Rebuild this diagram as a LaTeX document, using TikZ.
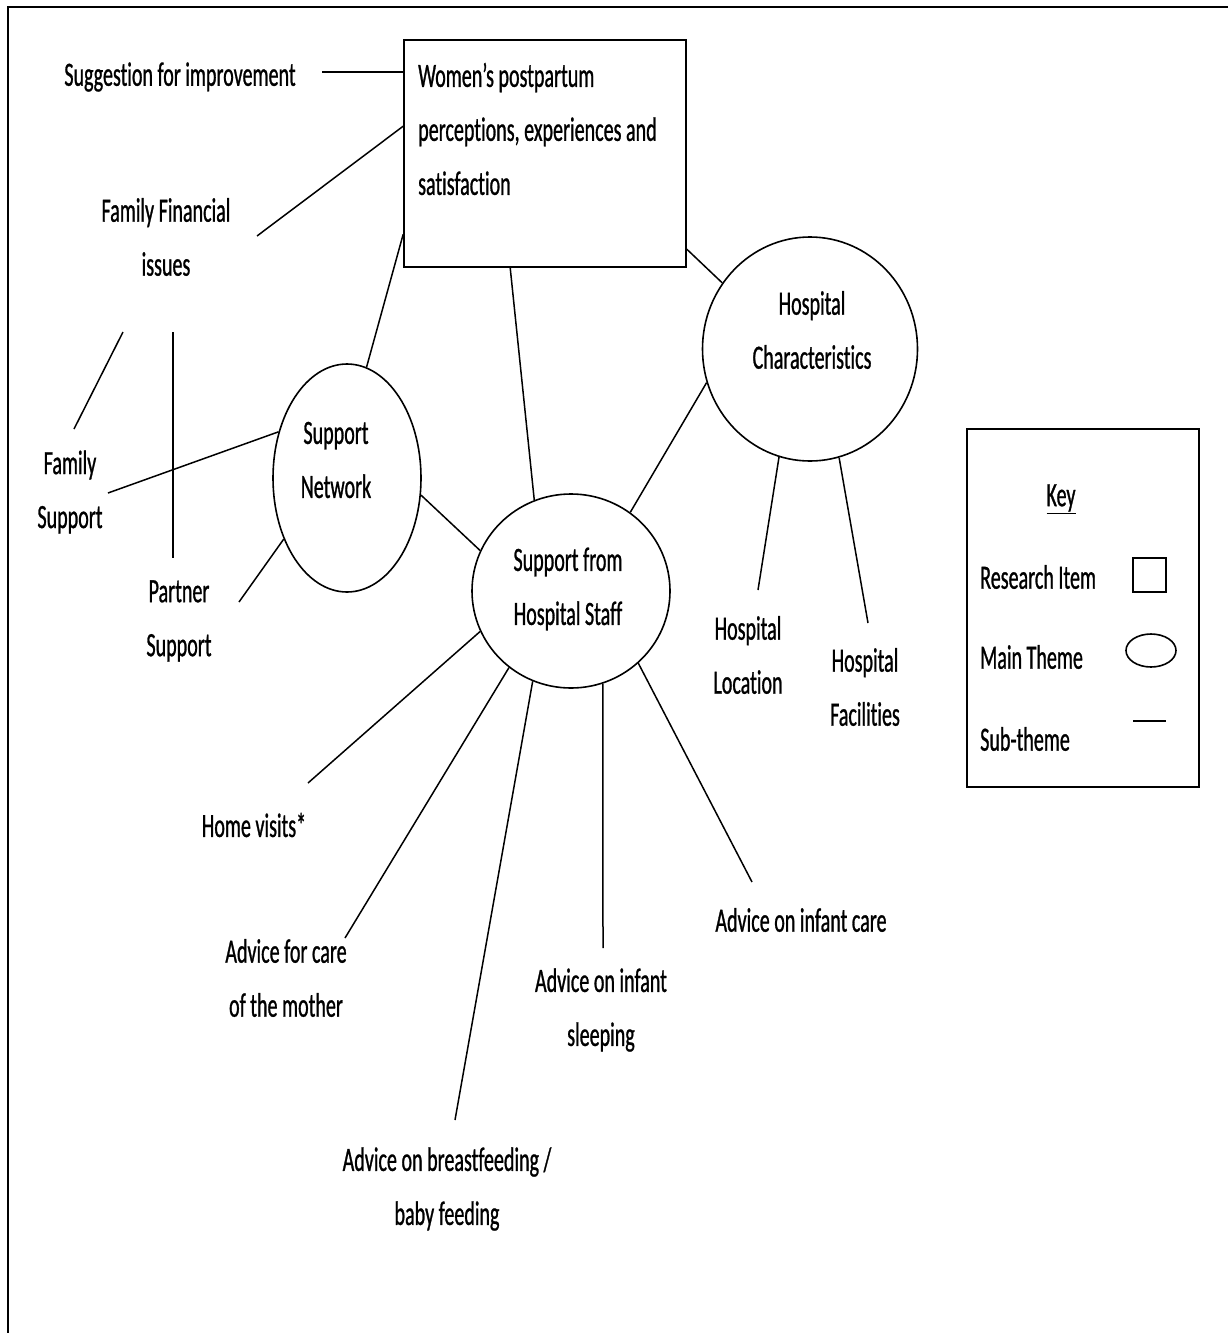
\documentclass[tikz,border=0pt]{standalone}
\usepackage{fontspec}
\setmainfont{Carlito}[FakeStretch=0.59, FakeBold=0.8, Ligatures=NoCommon]
\usetikzlibrary{shapes.geometric,calc}
\begin{document}
\begin{tikzpicture}[x=1pt,y=-1pt,
  every node/.style={font=\fontsize{34}{54}\selectfont, inner sep=0pt},
  lbl/.style={align=center},
  conn/.style={line width=1.5pt},
  theme/.style={draw, ellipse, line width=1.6pt, minimum width=#1},
  itembox/.style={draw, rectangle, line width=1.6pt}
]
\useasboundingbox (0,0) rectangle (1228,1333);
\fill[white] (0,0) rectangle (1228,1333);
% frame (top and left only)
\draw[line width=2.4pt] (8,1333) -- (8,7) -- (1228,7);

% research item
\node[itembox, minimum width=282pt, minimum height=227pt] (box) at (545,153.5) {};
\node[anchor=west, align=left] (boxt) at (418,129) {Women’s postpartum\\perceptions, experiences and\\satisfaction};

% main themes
\node[theme=148pt, minimum height=228pt] (sn) at (347,478) {};
\node[lbl] (snt) at (336,460) {Support\\Network};
\node[theme=198pt, minimum height=194pt] (shs) at (571,591) {};
\node[lbl] (shst) at (568,589) {Support from\\Hospital Staff};
\node[theme=215pt, minimum height=224pt] (hc) at (810,349) {};
\node[lbl] (hct) at (812,330) {Hospital\\Characteristics};

% sub-themes
\node[lbl] (sug) at (180,77) {Suggestion for improvement};
\node[lbl] (ffi) at (166,237) {Family Financial\\issues};
\node[lbl] (fs) at (70,492) {Family\\Support};
\node[lbl] (ps) at (179,621) {Partner\\Support};
\node[lbl] (hl) at (748,655) {Hospital\\Location};
\node[lbl] (hf) at (865,687) {Hospital\\Facilities};
\node[lbl] (hv) at (254,825) {Home visits*};
\node[lbl] (acm) at (286,978) {Advice for care\\of the mother};
\node[lbl] (abf) at (447,1189) {Advice on breastfeeding /\\baby feeding};
\node[lbl] (ais) at (601,1010) {Advice on infant\\sleeping};
\node[lbl] (aic) at (801,920) {Advice on infant care};

% free ends of connectors
\coordinate (e-sug) at (322,72);
\coordinate (e-ffi) at (257,236);
\coordinate (e-ffa) at (123,332);
\coordinate (e-fsa) at (74,429);
\coordinate (e-ffb) at (173,332);
\coordinate (e-psb) at (173,558);
\coordinate (e-fs) at (108,493);
\coordinate (e-ps) at (239,602);
\coordinate (e-hl) at (758,590);
\coordinate (e-hf) at (868,623);
\coordinate (e-hv) at (308,783);
\coordinate (e-acm) at (345,938);
\coordinate (e-abf) at (455,1120);
\coordinate (e-ais) at (603,948);
\coordinate (e-aic) at (752,882);

% connectors
\draw[conn] (e-sug) -- (box.west |- e-sug);
\draw[conn] (e-ffi) -- ($(box.north west)+(0,87)$);
\draw[conn] (e-ffa) -- (e-fsa);
\draw[conn] (e-ffb) -- (e-psb);
\draw[conn] (e-fs) -- (sn.146.5);
\draw[conn] (e-ps) -- (sn.224.5);
\draw[conn] (sn.-13) -- (shs.156);
\draw[conn] (sn.80) -- ($(box.north west)+(0,195)$);
\draw[conn] ($(box.south west)+(107,0)$) -- (shs.112);
\draw[conn] ($(box.north east)+(0,210)$) -- (hc.143.7);
\draw[conn] (hc.198.3) -- (shs.53.3);
\draw[conn] (hc.254.5) -- (e-hl);
\draw[conn] (hc.285.5) -- (e-hf);
\draw[conn] (shs.204) -- (e-hv);
\draw[conn] (shs.231) -- (e-acm);
\draw[conn] (shs.247) -- (e-abf);
\draw[conn] (shs.289) -- (e-ais);
\draw[conn] (shs.313.8) -- (e-aic);

% key
\node[itembox, minimum width=232pt, minimum height=358pt] (key) at (1083,608) {};
\node (keyt) at (1061,499) {\underline{Key}};
\node[anchor=west] (kri) at (980,577) {Research Item};
\node[anchor=west] (kmt) at (980,657) {Main Theme};
\node[anchor=west] (kst) at (980,739) {Sub-theme};
\node[itembox, minimum width=33pt, minimum height=34pt] (ksq) at (1149.5,575) {};
\node[draw, ellipse, line width=1.6pt, minimum width=50pt, minimum height=33pt] (kel) at (1151,650.5) {};
\coordinate (ks1) at (1133,721);
\coordinate (ks2) at (1166,721);
\draw[conn] (ks1) -- (ks2);
\end{tikzpicture}
\end{document}
